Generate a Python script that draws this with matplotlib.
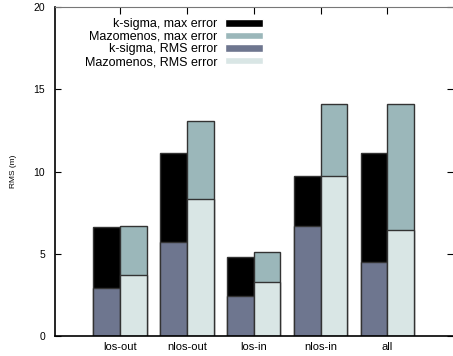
import matplotlib
matplotlib.use('Agg')
import matplotlib.pyplot as plt
import numpy as np

categories = ['los-out', 'nlos-out', 'los-in', 'nlos-in', 'all']
ksigma_max = [6.6, 11.1, 4.8, 9.7, 11.1]
mazo_max = [6.7, 13.05, 5.12, 14.12, 14.12]
ksigma_rms = [2.9, 5.7, 2.43, 6.7, 4.52]
mazo_rms = [3.7, 8.3, 3.28, 9.73, 6.43]

plt.rcParams['font.family'] = ['Liberation Sans', 'DejaVu Sans']

fig = plt.figure(figsize=(4.53, 3.56), dpi=100)
ax = fig.add_axes([55 / 453, 20 / 356, 398 / 453, 329 / 356])

x = np.arange(1, len(categories) + 1)
w = 0.4
edge = '#333333'
c_kmax, c_mmax, c_krms, c_mrms = '#000000', '#9bb7ba', '#6e768f', '#d9e6e5'

ax.bar(x - w / 2, ksigma_max, w, color=c_kmax, edgecolor=edge, lw=1, label='k-sigma, max error')
ax.bar(x + w / 2, mazo_max, w, color=c_mmax, edgecolor=edge, lw=1, label='Mazomenos, max error')
ax.bar(x - w / 2, ksigma_rms, w, color=c_krms, edgecolor=edge, lw=1, label='k-sigma, RMS error')
ax.bar(x + w / 2, mazo_rms, w, color=c_mrms, edgecolor=edge, lw=1, label='Mazomenos, RMS error')

ax.set_xlim(0.03, 5.98)
ax.set_ylim(0, 20)
ax.set_xticks(x)
ax.set_xticklabels(categories, fontsize=8)
ax.set_yticks([0, 5, 10, 15, 20])
ax.tick_params(axis='y', labelsize=7.5, direction='in', right=True, length=4, pad=7)
ax.tick_params(axis='x', direction='in', top=True, bottom=False, length=5, pad=4)
ax.set_ylabel('RMS (m)', fontsize=6, labelpad=12)

ax.spines['right'].set_visible(False)
ax.spines['top'].set_color('#777777')
for s in ['left', 'bottom']:
    ax.spines[s].set_linewidth(1.2)

leg = ax.legend(loc='upper left', bbox_to_anchor=(0.06, 0.985), frameon=False,
                markerfirst=False, fontsize=9, handlelength=3.0, handleheight=0.55,
                handletextpad=0.6, labelspacing=0.05, borderpad=0)
for p in leg.get_patches():
    p.set_edgecolor('white')

plt.savefig('out.png', dpi=100)
